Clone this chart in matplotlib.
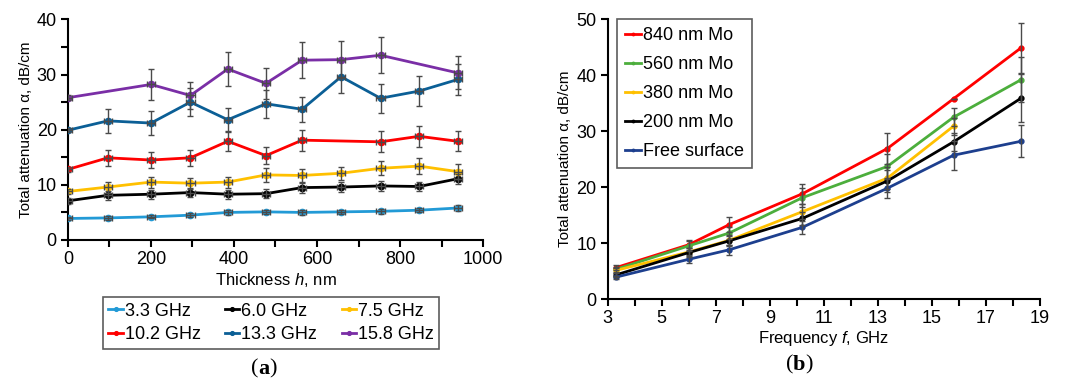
import numpy as np
import matplotlib.pyplot as plt
from matplotlib.ticker import MultipleLocator, FixedLocator

plt.rcParams['font.family'] = ['Liberation Sans', 'DejaVu Sans']
plt.rcParams['mathtext.fontset'] = 'custom'
plt.rcParams['mathtext.it'] = 'Liberation Sans:italic'
plt.rcParams['mathtext.rm'] = 'Liberation Sans'

# ---- panel (a): attenuation vs Mo thickness ----
thickness = [0, 96, 200, 295, 385, 477, 564, 658, 753, 846, 939]
nan = np.nan
a_labels = ['3.3 GHz', '6.0 GHz', '7.5 GHz', '10.2 GHz', '13.3 GHz', '15.8 GHz']
a_colors = ['#229ad6', '#000000', '#ffc000', '#ff0000', '#0b5f96', '#7a2ea6']
a_vals = [
    [3.9, 4.0, 4.2, 4.5, 5.0, 5.1, 5.0, 5.1, 5.2, 5.4, 5.8],
    [7.1, 8.1, 8.3, 8.6, 8.3, 8.4, 9.5, 9.6, 9.8, 9.7, 11.1],
    [8.8, 9.6, 10.5, 10.3, 10.5, 11.8, 11.7, 12.1, 13.0, 13.4, 12.4],
    [12.8, 14.9, 14.5, 14.9, 17.9, 15.3, 18.1, nan, 17.8, 18.8, 17.9],
    [19.9, 21.6, 21.2, 25.0, 21.8, 24.7, 23.7, 29.6, 25.7, 27.0, 29.1],
    [25.8, nan, 28.2, 26.2, 31.0, 28.4, 32.6, 32.7, 33.5, nan, 30.3],
]
a_errs = [
    [0.3, 0.3, 0.3, 0.4, 0.4, 0.4, 0.4, 0.4, 0.4, 0.4, 0.5],
    [0.5, 0.8, 0.8, 0.8, 0.8, 0.8, 0.9, 0.9, 0.9, 0.9, 0.9],
    [0.4, 1.0, 1.0, 1.0, 1.0, 1.2, 1.2, 1.2, 1.3, 1.4, 1.3],
    [0.4, 1.5, 1.5, 1.5, 1.8, 1.5, 1.9, nan, 1.9, 1.9, 1.8],
    [0.4, 2.2, 2.1, 2.5, 2.2, 2.5, 2.3, 3.0, 2.6, 2.7, 2.9],
    [0.4, nan, 2.8, 2.5, 3.1, 2.8, 3.3, 3.3, 3.3, nan, 3.0],
]
h_err = 10

# ---- panel (b): attenuation vs frequency ----
freq = [3.3, 6.0, 7.5, 10.2, 13.35, 15.8, 18.3]
b_labels = ['840 nm Mo', '560 nm Mo', '380 nm Mo', '200 nm Mo', 'Free surface']
b_colors = ['#ff0000', '#4cae3c', '#ffc000', '#000000', '#1d3f8e']
b_vals = [
    [5.6, 9.7, 13.3, 18.8, 26.9, 35.8, 44.9],
    [5.3, 9.5, 11.8, 18.1, 23.7, 32.5, 39.2],
    [5.1, 8.4, 10.5, 15.6, 21.6, 30.9, nan],
    [4.3, 8.3, 10.4, 14.4, 21.1, 28.1, 35.9],
    [3.9, 7.1, 8.8, 12.8, 19.8, 25.7, 28.2],
]
b_errs = [
    [0.5, 0.9, 1.4, 1.8, 2.8, 0.0, 4.5],
    [0.5, 0.9, 1.0, 1.7, 2.3, 1.6, 4.0],
    [0.4, 0.8, 0.9, 1.3, 2.0, 1.5, nan],
    [0.4, 0.8, 0.9, 1.2, 2.0, 1.6, 4.3],
    [0.3, 0.7, 0.9, 1.2, 1.8, 2.6, 2.9],
]

fig = plt.figure(figsize=(10.67, 3.83), dpi=100)
ax1 = fig.add_axes([0.0637, 0.3734, 0.389, 0.576])
ax2 = fig.add_axes([0.5695, 0.2193, 0.4052, 0.7303])

ecol = '#4a4a4a'

a_handles = []
for vals, errs, col, lab in zip(a_vals, a_errs, a_colors, a_labels):
    v = np.array(vals, dtype=float)
    e = np.array(errs, dtype=float)
    x = np.array(thickness, dtype=float)
    ok = ~np.isnan(v)
    ln, = ax1.plot(x[ok], v[ok], '-o', color=col, lw=2, ms=4.5, label=lab, zorder=3)
    a_handles.append(ln)
    ax1.errorbar(x[ok], v[ok], yerr=e[ok], xerr=h_err, fmt='none', ecolor=ecol,
                 elinewidth=1, capsize=2, capthick=1, zorder=4)

ax1.set_xlim(0, 1000)
ax1.set_ylim(0, 40)
ax1.xaxis.set_major_locator(MultipleLocator(200))
ax1.xaxis.set_minor_locator(MultipleLocator(100))
ax1.yaxis.set_major_locator(MultipleLocator(10))
ax1.yaxis.set_minor_locator(MultipleLocator(5))
ax1.set_xlabel('Thickness $h$, nm', fontsize=12, labelpad=2)
ax1.set_ylabel('Total attenuation α, dB/cm', fontsize=11, labelpad=3)

b_handles = []
for vals, errs, col, lab in zip(b_vals, b_errs, b_colors, b_labels):
    v = np.array(vals, dtype=float)
    e = np.array(errs, dtype=float)
    x = np.array(freq, dtype=float)
    ok = ~np.isnan(v)
    ln, = ax2.plot(x[ok], v[ok], '-o', color=col, lw=2, ms=3.5, label=lab, zorder=3)
    b_handles.append(ln)
    ax2.errorbar(x[ok], v[ok], yerr=e[ok], fmt='none', ecolor=ecol,
                 elinewidth=1, capsize=2, capthick=1, zorder=4)

ax2.set_xlim(3, 19)
ax2.set_ylim(0, 50)
ax2.xaxis.set_major_locator(FixedLocator(range(3, 20, 2)))
ax2.xaxis.set_minor_locator(MultipleLocator(1))
ax2.yaxis.set_major_locator(MultipleLocator(10))
ax2.set_xlabel('Frequency $f$, GHz', fontsize=12, labelpad=1)
ax2.set_ylabel('Total attenuation α, dB/cm', fontsize=11, labelpad=3)

for ax in (ax1, ax2):
    for s in ('top', 'right'):
        ax.spines[s].set_visible(False)
    for s in ('left', 'bottom'):
        ax.spines[s].set_linewidth(1.5)
    ax.tick_params(which='major', length=5, width=1.5, labelsize=13, pad=3)
    ax.tick_params(which='minor', length=5, width=1.5)

# row-major order for a 2 x 3 legend
order = [0, 3, 1, 4, 2, 5]
leg1 = fig.legend(handles=[a_handles[i] for i in order],
                  labels=[a_labels[i] for i in order], ncol=3,
                  loc='center', bbox_to_anchor=(0.254, 0.157), fontsize=13,
                  frameon=True, fancybox=False, edgecolor='#333333',
                  handlelength=0.8, handletextpad=0.1, columnspacing=1.35,
                  labelspacing=0.37, borderpad=0.3, markerscale=0.6)
leg1.get_frame().set_linewidth(1.2)

leg2 = ax2.legend(handles=b_handles, loc='upper left', fontsize=13,
                  frameon=True, fancybox=False, edgecolor='#333333',
                  handlelength=0.9, handletextpad=0.1, labelspacing=0.66,
                  borderpad=0.45, markerscale=0.5, borderaxespad=0,
                  bbox_to_anchor=(0.021, 1.0))
leg2.get_frame().set_linewidth(1.2)

# panel captions: normal parentheses, bold letter
serif = 'Liberation Serif'
fig.text(0.242, 0.037, '(', fontsize=16, family=serif, ha='right', va='center')
fig.text(0.242, 0.037, 'a', fontsize=16, family=serif, weight='bold', ha='left', va='center')
fig.text(0.252, 0.037, ')', fontsize=16, family=serif, ha='left', va='center')
fig.text(0.7432, 0.048, '(', fontsize=16, family=serif, ha='right', va='center')
fig.text(0.7432, 0.048, 'b', fontsize=16, family=serif, weight='bold', ha='left', va='center')
fig.text(0.7545, 0.048, ')', fontsize=16, family=serif, ha='left', va='center')

fig.savefig('out.png', dpi=100)
